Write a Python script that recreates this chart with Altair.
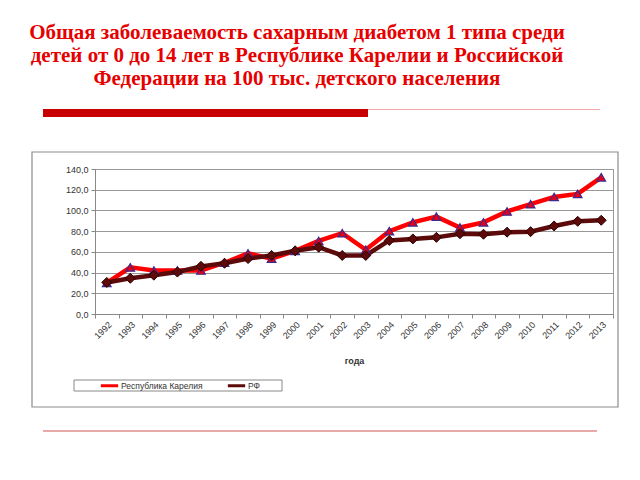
import altair as alt
import pandas as pd

years = [str(y) for y in range(1992, 2014)]
karelia = [30, 45, 42, 42, 42, 49.5, 58.5, 53.5, 61, 70.5, 78, 62, 80, 88.5, 94, 83.5, 88.5, 99, 106, 113, 116, 132]
rf = [30.5, 34.5, 37.5, 40.5, 46, 49, 53.5, 56.5, 61, 64.5, 56.5, 56.5, 71, 72.5, 74, 77.5, 77, 79, 79.5, 85, 89.5, 90.5]
series_names = ["Республика  Карелия", "РФ"]
title_lines = [
    "Общая заболеваемость сахарным диабетом 1 типа среди",
    "детей от 0 до 14 лет в Республике Карелии и Российской",
    "Федерации на 100 тыс. детского населения",
]
x_title = "года"

rows = []
for i, y in enumerate(years):
    rows.append({"year": y, "series": series_names[0], "value": karelia[i]})
    rows.append({"year": y, "series": series_names[1], "value": rf[i]})
df = pd.DataFrame(rows)

colors = ["#ff0000", "#5c0a0a"]
W, H = 518, 145

x_enc = alt.X("year:O", title=x_title,
              scale=alt.Scale(paddingInner=0, paddingOuter=0),
              axis=alt.Axis(labelAngle=-45, labelFontSize=9, labelFont="Liberation Sans",
                            labelColor="#333333", tickBand="extent", tickColor="#888888",
                            tickSize=4, domainColor="#888888", grid=False,
                            titleFont="Liberation Sans", titleFontSize=9, titleFontWeight="bold",
                            titleColor="#333333", titlePadding=16, labelPadding=2,
                            labelOverlap=False))
y_enc = alt.Y("value:Q", title=None,
              scale=alt.Scale(domain=[0, 140], nice=False),
              axis=alt.Axis(values=[0, 20, 40, 60, 80, 100, 120, 140],
                            labelExpr="replace(format(datum.value, '.1f'), '.', ',')",
                            labelFontSize=9, labelFont="Liberation Sans", labelColor="#333333",
                            gridColor="#999999", gridWidth=1, domainColor="#888888",
                            tickColor="#888888", tickSize=4, labelPadding=3,
                            labelOverlap=False))

one = pd.DataFrame({"a": [0]})
frame = alt.Chart(one).mark_rect(fill=None, stroke="#8c8c8c", strokeWidth=1.2).encode(
    x=alt.value(-63), x2=alt.value(523), y=alt.value(-17), y2=alt.value(238))
legend_box = alt.Chart(one).mark_rect(fill="white", stroke="#888888", strokeWidth=1).encode(
    x=alt.value(-21), x2=alt.value(187), y=alt.value(211), y2=alt.value(222))

thick_bar = alt.Chart(one).mark_rule(color="#c80000", strokeWidth=8).encode(
    x=alt.value(-52), x2=alt.value(273), y=alt.value(-56))
thin_line = alt.Chart(one).mark_rule(color="#f0a8a8", strokeWidth=1.2).encode(
    x=alt.value(273), x2=alt.value(505), y=alt.value(-59.5))
bottom_line = alt.Chart(one).mark_rule(color="#e08c8c", strokeWidth=1.5).encode(
    x=alt.value(-52), x2=alt.value(502), y=alt.value(262))

title_layers = []
for i, t in enumerate(title_lines):
    title_layers.append(
        alt.Chart(pd.DataFrame({"t": [t]})).mark_text(
            font="Liberation Serif", fontSize=21, fontWeight="bold", color="#e60000",
            align="center", baseline="middle").encode(
            text="t:N", x=alt.value(202), y=alt.value(-136 + i * 23))
    )

lines = alt.Chart(df).mark_line(strokeWidth=4.5).encode(
    x=x_enc, y=y_enc,
    color=alt.Color("series:N", scale=alt.Scale(domain=series_names, range=colors),
                    legend=alt.Legend(title=None, orient="none", legendX=4, legendY=206,
                                      direction="horizontal", padding=0, labelFontSize=8.5,
                                      labelFont="Liberation Sans", labelColor="#333333",
                                      symbolType="stroke", symbolSize=300, symbolStrokeWidth=3,
                                      labelOffset=1, columnPadding=16, labelLimit=200,
                                      offset=0)),
)

pts_k = alt.Chart(df[df.series == series_names[0]]).mark_point(
    shape="triangle-up", filled=True, fill="#e8001a", stroke="#3b2a8c", strokeWidth=1.2, size=75, opacity=1).encode(
    x=x_enc, y=y_enc)
pts_r = alt.Chart(df[df.series == series_names[1]]).mark_point(
    shape="diamond", filled=True, fill="#5c0a0a", stroke="#2a0000", strokeWidth=1, size=100, opacity=1).encode(
    x=x_enc, y=y_enc)

chart = alt.layer(frame, legend_box, thick_bar, thin_line, bottom_line, *title_layers, lines, pts_k, pts_r).properties(
    width=W, height=H,
    autosize=alt.AutoSizeParams(type="none"),
    padding={"left": 87, "top": 161, "right": 18, "bottom": 158},
    background="white",
).configure_view(stroke="#999999")

chart.save("out.html", embed_options={"renderer": "svg", "actions": False})
